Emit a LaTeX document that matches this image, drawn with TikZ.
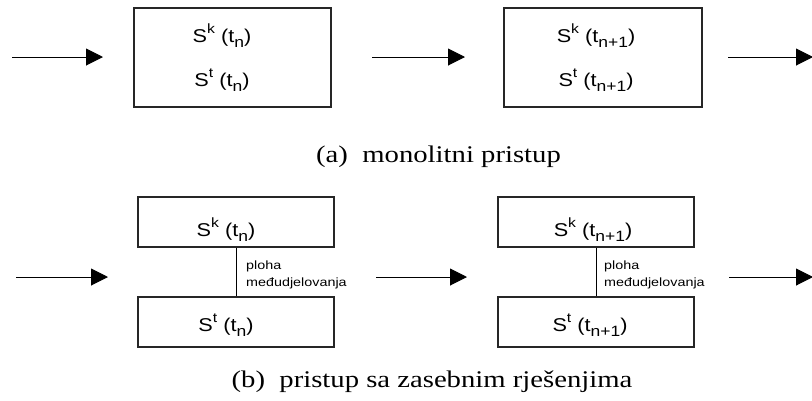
\documentclass[tikz,border=0pt]{standalone}
\usepackage{fontspec}
\setmainfont{Liberation Serif}
\newfontfamily\arialf{Liberation Sans}
\usetikzlibrary{arrows.meta}
\newcommand\upx[1]{\raisebox{8.7bp}{\fontsize{13.5}{14}\selectfont #1}}
\newcommand\dnx[1]{\raisebox{-5bp}{\fontsize{15}{16}\selectfont #1}}
\newcommand\sx[1]{\scalebox{1.17}[1]{#1}}
\newcommand\cx[1]{\scalebox{1.2}[1]{#1}}
\begin{document}
\begin{tikzpicture}[x=1bp,y=-1bp,
  boxa/.style={draw=black!85,line width=1.1bp,inner sep=0pt},
  stext/.style={font=\arialf\fontsize{18.6}{22}\selectfont,inner sep=0pt,anchor=base},
  plabel/.style={font=\arialf\fontsize{12}{14}\selectfont,inner sep=0pt,anchor=base west},
  captext/.style={font=\fontsize{24}{28}\selectfont,inner sep=0pt,anchor=base},
  arr/.style={line width=1bp,-{Triangle[length=17bp,width=17bp]}},
  link/.style={line width=1bp}]
\useasboundingbox (0,0) rectangle (812,400);
% ---- (a) monolithic ----
\node[boxa,minimum width=197bp,minimum height=99bp] (a1box) at (232.5,57.5) {};
\node[boxa,minimum width=198bp,minimum height=99bp] (a2box) at (603,57.5) {};
\node[stext] (a1k) at (222,42) {\sx{S\upx{k} (t\dnx{n})}};
\node[stext] (a1t) at (222,86) {\sx{S\upx{t} (t\dnx{n})}};
\node[stext] (a2k) at (596,42) {\sx{S\upx{k} (t\dnx{n+1})}};
\node[stext] (a2t) at (596,86) {\sx{S\upx{t} (t\dnx{n+1})}};
\coordinate (a0s) at (12,57);
\coordinate (a0e) at (103,57);
\coordinate (a1s) at (372,57);
\coordinate (a1e) at (465,57);
\coordinate (a2s) at (728,57);
\coordinate (a2e) at (813,57);
\draw[arr] (a0s) -- (a0e);
\draw[arr] (a1s) -- (a1e);
\draw[arr] (a2s) -- (a2e);
\node[captext] (capa) at (438.5,162) {\cx{(a)\ \ monolitni pristup}};
% ---- (b) separate ----
\node[boxa,minimum width=196bp,minimum height=50bp] (b1k) at (236,222) {};
\node[boxa,minimum width=196bp,minimum height=50bp] (b1t) at (236,322) {};
\node[boxa,minimum width=196bp,minimum height=50bp] (b2k) at (596,222) {};
\node[boxa,minimum width=196bp,minimum height=50bp] (b2t) at (596,322) {};
\node[stext] (b1kt) at (226,236) {\sx{S\upx{k} (t\dnx{n})}};
\node[stext] (b1tt) at (226,331) {\sx{S\upx{t} (t\dnx{n})}};
\node[stext] (b2kt) at (593,236) {\sx{S\upx{k} (t\dnx{n+1})}};
\node[stext] (b2tt) at (590,331) {\sx{S\upx{t} (t\dnx{n+1})}};
\draw[link] (b1k.south) -- (b1t.north);
\draw[link] (b2k.south) -- (b2t.north);
\node[plabel] (pl1) at (246,269) {\cx{ploha}};
\node[plabel] (md1) at (246,286) {\cx{međudjelovanja}};
\node[plabel] (pl2) at (604,269) {\cx{ploha}};
\node[plabel] (md2) at (604,286) {\cx{međudjelovanja}};
\coordinate (b0s) at (16,277);
\coordinate (b0e) at (108,277);
\coordinate (b1s) at (376,277);
\coordinate (b1e) at (467,277);
\coordinate (b2s) at (729,277);
\coordinate (b2e) at (813,277);
\draw[arr] (b0s) -- (b0e);
\draw[arr] (b1s) -- (b1e);
\draw[arr] (b2s) -- (b2e);
\node[captext] (capb) at (432,387) {\cx{(b)\ \ pristup sa zasebnim rješenjima}};
\end{tikzpicture}
\end{document}
